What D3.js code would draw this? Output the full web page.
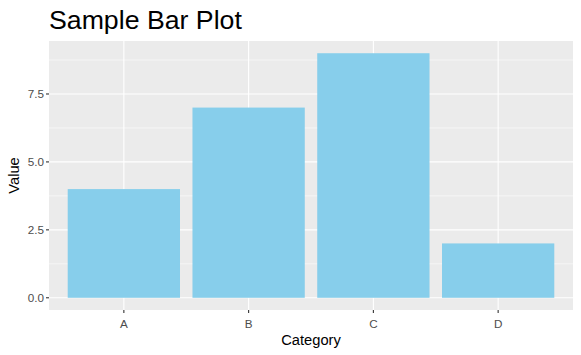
<!DOCTYPE html>
<html><head><meta charset="utf-8">
<script src="https://cdn.jsdelivr.net/npm/d3@7"></script>
<style>body{margin:0;background:#fff}svg{display:block}text{font-family:"Liberation Sans",Arial,sans-serif}</style>
</head><body><svg id="c" width="581" height="355"></svg>
<script>
const categories = ["A","B","C","D"];
const values = [4,7,9,2];
const yTicks = [0,2.5,5,7.5];
const yTickLabels = ["0.0","2.5","5.0","7.5"];
const yMinor = [1.25,3.75,6.25,8.75];

const svg = d3.select("#c");
const L=49,R=573,T=41,B=310;
// discrete expand: 0.6 units each side
const step=(R-L)/(categories.length-1+1.2);
const x = d3.scalePoint().domain(categories).range([L+0.6*step, R-0.6*step]);
const xc = c => x(c);
const ymax = d3.max(values);
const y = d3.scaleLinear().domain([-ymax*0.05, ymax*1.05]).range([B,T]);

svg.append("rect").attr("x",L).attr("y",T).attr("width",R-L).attr("height",B-T).attr("fill","#ebebeb");
const g=svg.append("g");
yMinor.forEach(v=>g.append("line").attr("x1",L).attr("x2",R).attr("y1",y(v)).attr("y2",y(v)).attr("stroke","#fff").attr("stroke-width",0.55));
yTicks.forEach(v=>g.append("line").attr("x1",L).attr("x2",R).attr("y1",y(v)).attr("y2",y(v)).attr("stroke","#fff").attr("stroke-width",1.1));
categories.forEach(c=>g.append("line").attr("x1",xc(c)).attr("x2",xc(c)).attr("y1",T).attr("y2",B).attr("stroke","#fff").attr("stroke-width",1.1));

svg.selectAll("rect.bar").data(categories).enter().append("rect").attr("class","bar")
  .attr("x",(c)=>xc(c)-0.45*step).attr("width",0.9*step)
  .attr("y",(c,i)=>y(values[i])).attr("height",(c,i)=>y(0)-y(values[i]))
  .attr("fill","#87ceeb");

yTicks.forEach((v,i)=>{
  svg.append("line").attr("x1",L-3).attr("x2",L).attr("y1",y(v)).attr("y2",y(v)).attr("stroke","#333").attr("stroke-width",1.1);
  svg.append("text").attr("x",L-5).attr("y",y(v)).attr("dy","0.35em").attr("text-anchor","end").attr("font-size","11.7px").attr("fill","#4d4d4d").text(yTickLabels[i]);
});
categories.forEach(c=>{
  svg.append("line").attr("x1",xc(c)).attr("x2",xc(c)).attr("y1",B).attr("y2",B+3).attr("stroke","#333").attr("stroke-width",1.1);
  svg.append("text").attr("x",xc(c)).attr("y",328).attr("text-anchor","middle").attr("font-size","11.7px").attr("fill","#4d4d4d").text(c);
});
svg.append("text").attr("x",(L+R)/2).attr("y",345).attr("text-anchor","middle").attr("font-size","14.7px").attr("fill","#000").text("Category");
svg.append("text").attr("transform",`translate(19,${(T+B)/2}) rotate(-90)`).attr("text-anchor","middle").attr("font-size","14.7px").attr("fill","#000").text("Value");
svg.append("text").attr("x",L).attr("y",29).attr("font-size","26.7px").attr("fill","#000").text("Sample Bar Plot");
</script></body></html>
